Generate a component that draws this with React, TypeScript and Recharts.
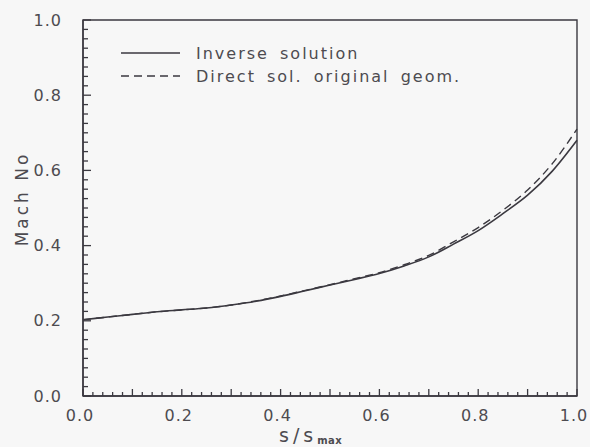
import { Legend, Line, LineChart, ReferenceArea, XAxis, YAxis } from 'recharts'

// arc position s/s_max
const S_POS = [0, 0.05, 0.1, 0.15, 0.2, 0.25, 0.3, 0.35, 0.4, 0.45, 0.5, 0.55, 0.6, 0.65, 0.7, 0.75, 0.8, 0.85, 0.9, 0.95, 1.0]
const INVERSE = [0.203, 0.21, 0.217, 0.224, 0.229, 0.234, 0.242, 0.252, 0.265, 0.28, 0.295, 0.31, 0.326, 0.346, 0.37, 0.404, 0.44, 0.485, 0.534, 0.598, 0.68]
const DIRECT = [0.203, 0.21, 0.217, 0.224, 0.229, 0.234, 0.242, 0.253, 0.266, 0.281, 0.296, 0.312, 0.328, 0.349, 0.374, 0.41, 0.448, 0.494, 0.548, 0.618, 0.71]

const X_LABELS = [0, 0.2, 0.4, 0.6, 0.8, 1.0]
const Y_LABELS = [0, 0.2, 0.4, 0.6, 0.8, 1.0]

const INK = '#3b3940'
const TEXT = '#4d4b50'
const FONT = '"DejaVu Sans", sans-serif'

// minor tick positions along each axis
const X_TICKS: number[] = []
for (let i = 0; i <= 50; i++) X_TICKS.push(i / 50)
const Y_TICKS: number[] = []
for (let i = 0; i <= 40; i++) Y_TICKS.push(i / 40)

const chartData = S_POS.map((s, i) => ({ s, inverse: INVERSE[i], direct: DIRECT[i] }))

const isLabel = (labels: number[], v: number) => labels.some((l) => Math.abs(l - v) < 1e-6)

function XTick({ x, y, payload }: any) {
  const v = payload.value
  const hundredths = Math.round(v * 100)
  const len = hundredths % 10 === 0 ? 7 : 4
  return (
    <g>
      <line x1={x} x2={x} y1={y} y2={y - len} stroke={INK} strokeWidth={1.3} />
      {isLabel(X_LABELS, v) && (
        <text x={x - 3} y={y + 19} textAnchor="middle" dominantBaseline="central" fill={TEXT} fontSize={16} fontFamily={FONT} letterSpacing={1}>
          {v.toFixed(1)}
        </text>
      )}
    </g>
  )
}

function YTick({ x, y, payload }: any) {
  const v = payload.value
  const major = isLabel(Y_LABELS, v)
  return (
    <g>
      <line x1={x} x2={x + (major ? 8 : 5)} y1={y} y2={y} stroke={INK} strokeWidth={1.3} />
      {major && (
        <text x={x - 21} y={y} textAnchor="end" dominantBaseline="central" fill={TEXT} fontSize={16} fontFamily={FONT} letterSpacing={1}>
          {v.toFixed(1)}
        </text>
      )}
    </g>
  )
}

function YTitle({ viewBox }: any) {
  const cx = viewBox.x + 22
  const cy = 199
  return (
    <text x={cx} y={cy} transform={`rotate(-90 ${cx} ${cy})`} textAnchor="middle" dominantBaseline="central" fill={TEXT} fontSize={17} fontFamily={FONT} letterSpacing={3}>
      Mach No
    </text>
  )
}

function XTitle() {
  return (
    <text x={279} y={442} fill={TEXT} fontSize={19} fontFamily={FONT} letterSpacing={4}>
      s/s<tspan fontSize={10} dy={2} fontWeight="bold" letterSpacing={0.5}>max</tspan>
    </text>
  )
}

function LegendBox() {
  const rows = [
    { label: 'Inverse solution', dash: undefined },
    { label: 'Direct sol. original geom.', dash: '8 5' },
  ]
  return (
    <svg width={420} height={50}>
      {rows.map((r, i) => (
        <g key={r.label}>
          <line x1={1} x2={60} y1={11 + i * 23} y2={11 + i * 23} stroke={INK} strokeWidth={1.4} strokeDasharray={r.dash} />
          <text x={76} y={11 + i * 23} dominantBaseline="central" fill={TEXT} fontSize={16} fontFamily={FONT} letterSpacing={2} wordSpacing={4}>
            {r.label}
          </text>
        </g>
      ))}
    </svg>
  )
}

export default function App() {
  return (
    <div style={{ position: 'absolute', left: 0, top: 0, width: 590, height: 447, background: '#f7f7f7' }}>
      <LineChart width={590} height={447} data={chartData} margin={{ top: 20, right: 13, bottom: 0, left: 0 }}>
        <XAxis
          dataKey="s"
          type="number"
          domain={[0, 1]}
          ticks={X_TICKS}
          interval={0}
          tick={<XTick />}
          tickLine={false}
          tickSize={0}
          tickMargin={0}
          axisLine={{ stroke: INK, strokeWidth: 1.4 }}
          height={51}
          label={<XTitle />}
        />
        <YAxis
          type="number"
          domain={[0, 1]}
          ticks={Y_TICKS}
          interval={0}
          tick={<YTick />}
          tickLine={false}
          tickSize={0}
          tickMargin={0}
          axisLine={{ stroke: INK, strokeWidth: 1.4 }}
          width={83}
          label={<YTitle />}
        />
        <ReferenceArea x1={0} x2={1} y1={0} y2={1} fill="none" stroke={INK} strokeWidth={1.4} />
        <Legend
          layout="horizontal"
          verticalAlign="middle"
          align="center"
          content={<LegendBox />}
          wrapperStyle={{ position: 'absolute', left: 120, top: 42, width: 420, height: 50 }}
        />
        <Line dataKey="inverse" type="monotone" stroke={INK} strokeWidth={1.6} dot={false} isAnimationActive={false} />
        <Line dataKey="direct" type="monotone" stroke={INK} strokeWidth={1.4} strokeDasharray="8 5" dot={false} isAnimationActive={false} />
      </LineChart>
    </div>
  )
}
